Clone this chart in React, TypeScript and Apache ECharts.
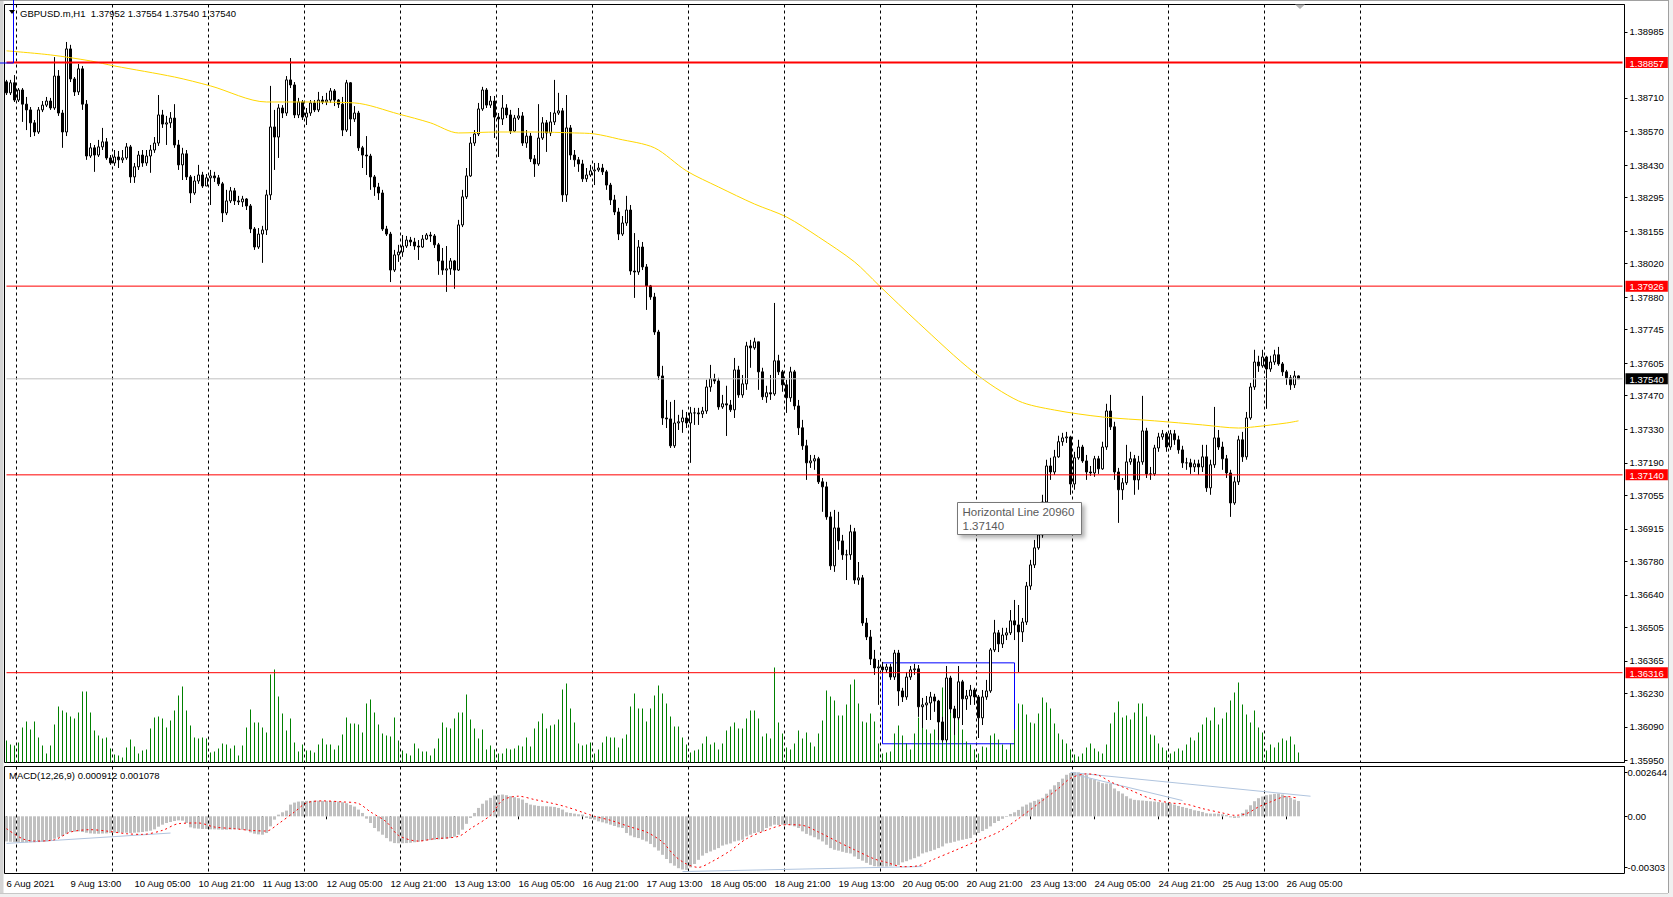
import React, { useEffect, useRef } from "react";
import * as echarts from "echarts";

const FONT = '"Liberation Sans", Arial, Helvetica, sans-serif';

// ---------- tick labels ----------
const timeTickLabels = [
  "6 Aug 2021", "9 Aug 13:00", "10 Aug 05:00", "10 Aug 21:00", "11 Aug 13:00", "12 Aug 05:00",
  "12 Aug 21:00", "13 Aug 13:00", "16 Aug 05:00", "16 Aug 21:00", "17 Aug 13:00", "18 Aug 05:00",
  "18 Aug 21:00", "19 Aug 13:00", "20 Aug 05:00", "20 Aug 21:00", "23 Aug 13:00", "24 Aug 05:00",
  "24 Aug 21:00", "25 Aug 13:00", "26 Aug 05:00",
];
const priceTicks = [
  1.38985, 1.3871, 1.3857, 1.3843, 1.38295, 1.38155, 1.3802, 1.3788, 1.37745, 1.37605, 1.3747,
  1.3733, 1.3719, 1.37055, 1.36915, 1.3678, 1.3664, 1.36505, 1.36365, 1.3623, 1.3609, 1.3595,
];
const redLevels = [1.38857, 1.37926, 1.3714, 1.36316];
const redWidths = [2, 1, 1, 1];
const bidPrice = 1.3754;
const macdTicks = [0.002644, 0, -0.00303];
const macdTickLabels = ["0.002644", "0.00", "-0.00303"];

// ---------- H1 candles (GBPUSD) ----------
const firstOpen = 1.38777;
const closes = [
  1.38731, 1.38773, 1.38701, 1.38743, 1.38684, 1.3866, 1.38606, 1.38568, 1.3866, 1.3868,
  1.38697, 1.38668, 1.38801, 1.38647, 1.38568, 1.38914, 1.38789, 1.38735, 1.38831, 1.38684,
  1.38468, 1.38502, 1.38472, 1.38506, 1.38527, 1.3846, 1.38439, 1.38464, 1.38452, 1.3846,
  1.38506, 1.38381, 1.38423, 1.38472, 1.38439, 1.38468, 1.38493, 1.38522, 1.38639, 1.38601,
  1.38606, 1.38626, 1.38514, 1.38431, 1.38477, 1.38381, 1.38314, 1.38364, 1.38389, 1.38343,
  1.38377, 1.38385, 1.38377, 1.38352, 1.38231, 1.38281, 1.38323, 1.38281, 1.38277, 1.38289,
  1.3826, 1.38164, 1.38089, 1.38143, 1.3816, 1.38306, 1.38589, 1.38547, 1.38668, 1.38647,
  1.38785, 1.38764, 1.38639, 1.38693, 1.3863, 1.38647, 1.38689, 1.3866, 1.38701, 1.38693,
  1.38701, 1.38739, 1.38701, 1.38684, 1.38576, 1.38773, 1.38622, 1.38647, 1.38502, 1.38472,
  1.38468, 1.38381, 1.38339, 1.38314, 1.38164, 1.38143, 1.37993, 1.38056, 1.38068, 1.38093,
  1.38118, 1.3811, 1.38093, 1.38089, 1.38122, 1.38139, 1.38135, 1.38098, 1.38031, 1.37993,
  1.37998, 1.38031, 1.37993, 1.38181, 1.38298, 1.38385, 1.38522, 1.3856, 1.38664, 1.38743,
  1.3868, 1.38697, 1.3863, 1.38622, 1.38668, 1.38639, 1.38572, 1.38626, 1.38635, 1.38522,
  1.38551, 1.38456, 1.38435, 1.38543, 1.38606, 1.38564, 1.3861, 1.38647, 1.38656, 1.38306,
  1.38585, 1.38472, 1.38452, 1.38435, 1.38373, 1.38389, 1.38406, 1.3841, 1.38418, 1.38402,
  1.38347, 1.38285, 1.38235, 1.38143, 1.38189, 1.38243, 1.37989, 1.37985, 1.38089, 1.38006,
  1.37927, 1.37881, 1.37735, 1.37552, 1.37377, 1.37373, 1.37261, 1.37356, 1.37361, 1.37377,
  1.37356, 1.37398, 1.37398, 1.37394, 1.37406, 1.37506, 1.3754, 1.37531, 1.37423, 1.37436,
  1.37431, 1.37411, 1.37577, 1.37473, 1.37519, 1.37677, 1.37669, 1.37694, 1.37569, 1.37465,
  1.37482, 1.37477, 1.37615, 1.37569, 1.37515, 1.37461, 1.37569, 1.37427, 1.37336, 1.37261,
  1.3719, 1.37198, 1.37207, 1.37111, 1.3709, 1.36965, 1.36761, 1.36919, 1.36865, 1.36807,
  1.36807, 1.36903, 1.36702, 1.36711, 1.36523, 1.36465, 1.36373, 1.36336, 1.3634, 1.36328,
  1.3634, 1.36298, 1.36398, 1.3624, 1.36215, 1.36298, 1.36328, 1.36332, 1.36174, 1.36182,
  1.3619, 1.36215, 1.36198, 1.36111, 1.36036, 1.36294, 1.36165, 1.36128, 1.36278, 1.36207,
  1.36219, 1.36244, 1.36215, 1.36128, 1.36215, 1.3624, 1.36411, 1.36482, 1.36436, 1.36473,
  1.36482, 1.36532, 1.36515, 1.36486, 1.36527, 1.36677, 1.36765, 1.36836, 1.3689, 1.37027,
  1.37177, 1.37152, 1.37215, 1.37278, 1.37294, 1.37298, 1.37102, 1.37211, 1.37256, 1.37198,
  1.37152, 1.37148, 1.37207, 1.37165, 1.37256, 1.37406, 1.3734, 1.37152, 1.37078, 1.37107,
  1.37194, 1.37207, 1.37119, 1.37194, 1.37323, 1.37144, 1.37144, 1.37252, 1.37298, 1.37311,
  1.37256, 1.37311, 1.37286, 1.37244, 1.3719, 1.3719, 1.37173, 1.37186, 1.37173, 1.37215,
  1.37086, 1.37182, 1.37294, 1.37256, 1.37207, 1.37148, 1.37023, 1.37111, 1.37286, 1.37215,
  1.37377, 1.37506, 1.3761, 1.37594, 1.37631, 1.37581, 1.3761, 1.3764, 1.37602, 1.37569,
  1.37544, 1.37515, 1.37552, 1.3754,
];
const highs = [
  1.38785, 1.38785, 1.38805, 1.38751, 1.38751, 1.38714, 1.38672, 1.38618, 1.38672, 1.38697,
  1.38714, 1.3871, 1.3888, 1.38826, 1.3866, 1.38943, 1.38931, 1.38797, 1.38851, 1.38843,
  1.38701, 1.38522, 1.38514, 1.38535, 1.38585, 1.38543, 1.38472, 1.38493, 1.38489, 1.38493,
  1.38522, 1.38514, 1.38439, 1.38489, 1.38493, 1.38493, 1.38514, 1.38547, 1.38722, 1.3866,
  1.38635, 1.38651, 1.38684, 1.38535, 1.38502, 1.38493, 1.38389, 1.38385, 1.38431, 1.38402,
  1.38393, 1.3841, 1.38402, 1.38389, 1.3836, 1.38327, 1.38339, 1.38335, 1.38302, 1.38302,
  1.38293, 1.38268, 1.38172, 1.38168, 1.38177, 1.38327, 1.3876, 1.3866, 1.38684, 1.3868,
  1.38801, 1.38876, 1.38776, 1.3871, 1.38701, 1.38668, 1.38701, 1.38701, 1.38735, 1.38718,
  1.38731, 1.38751, 1.38747, 1.38705, 1.38714, 1.38785, 1.38776, 1.38676, 1.38656, 1.3851,
  1.38551, 1.38477, 1.38389, 1.38356, 1.38327, 1.38177, 1.38152, 1.38077, 1.38098, 1.38139,
  1.38135, 1.38131, 1.38127, 1.38118, 1.38139, 1.38147, 1.38152, 1.38143, 1.38106, 1.38085,
  1.38093, 1.38043, 1.38035, 1.38202, 1.38327, 1.38418, 1.38547, 1.38576, 1.38689, 1.38756,
  1.38751, 1.38718, 1.38718, 1.38647, 1.38722, 1.38684, 1.3866, 1.38639, 1.38668, 1.38651,
  1.38576, 1.38564, 1.38472, 1.38684, 1.3863, 1.38618, 1.38651, 1.38785, 1.38731, 1.38668,
  1.38722, 1.38597, 1.38493, 1.38464, 1.38452, 1.38418, 1.38431, 1.38439, 1.38439, 1.38435,
  1.3841, 1.38356, 1.38306, 1.38252, 1.38218, 1.38302, 1.38264, 1.38147, 1.38118, 1.3811,
  1.38018, 1.37931, 1.37898, 1.37744, 1.37594, 1.37452, 1.37444, 1.37452, 1.3739, 1.37411,
  1.37402, 1.37423, 1.37419, 1.37419, 1.37423, 1.37536, 1.37598, 1.37561, 1.37544, 1.37473,
  1.37511, 1.37452, 1.37627, 1.37594, 1.37556, 1.37694, 1.37702, 1.37711, 1.37681, 1.37586,
  1.37511, 1.37556, 1.37856, 1.3764, 1.37577, 1.37536, 1.3759, 1.37577, 1.37452, 1.37369,
  1.37286, 1.37223, 1.37223, 1.37215, 1.37127, 1.37111, 1.36986, 1.36994, 1.36986, 1.3689,
  1.36828, 1.36932, 1.36919, 1.36777, 1.36723, 1.36544, 1.36494, 1.36411, 1.36369, 1.36361,
  1.36353, 1.36353, 1.36411, 1.36411, 1.36253, 1.36319, 1.36344, 1.36353, 1.36348, 1.36211,
  1.36219, 1.36236, 1.36228, 1.36203, 1.36132, 1.36344, 1.36303, 1.36178, 1.36344, 1.36286,
  1.36244, 1.36265, 1.36253, 1.36223, 1.36244, 1.36286, 1.36419, 1.36536, 1.36494, 1.36503,
  1.36503, 1.36577, 1.36619, 1.36598, 1.36544, 1.36694, 1.36786, 1.36869, 1.36911, 1.37057,
  1.37203, 1.37211, 1.37244, 1.37303, 1.37315, 1.37319, 1.37303, 1.37236, 1.37286, 1.37265,
  1.37223, 1.37177, 1.37219, 1.37219, 1.37278, 1.37436, 1.37473, 1.37361, 1.37169, 1.37127,
  1.37265, 1.37236, 1.37223, 1.37219, 1.37469, 1.37336, 1.37173, 1.37265, 1.37315, 1.37327,
  1.37319, 1.37327, 1.37327, 1.37303, 1.37261, 1.37211, 1.37207, 1.37203, 1.37203, 1.37265,
  1.37265, 1.37203, 1.37423, 1.37327, 1.37278, 1.37223, 1.37161, 1.37132, 1.37303, 1.37319,
  1.37402, 1.37523, 1.37661, 1.37636, 1.37661, 1.37636, 1.37636, 1.37661, 1.37673, 1.3761,
  1.37577, 1.37556, 1.37573, 1.37554,
];
const lows = [
  1.38722, 1.38722, 1.38693, 1.38693, 1.3861, 1.38576, 1.38547, 1.38551, 1.3856, 1.38651,
  1.38672, 1.3866, 1.3866, 1.38635, 1.38502, 1.38551, 1.38776, 1.38718, 1.38722, 1.3866,
  1.38452, 1.3846, 1.38402, 1.38464, 1.38493, 1.38452, 1.38431, 1.38427, 1.38418, 1.38439,
  1.38452, 1.38356, 1.38356, 1.3841, 1.38423, 1.38427, 1.38398, 1.38481, 1.3851, 1.38585,
  1.38514, 1.38585, 1.38502, 1.3841, 1.38368, 1.38368, 1.38272, 1.38306, 1.38352, 1.38335,
  1.38343, 1.38264, 1.3836, 1.38343, 1.38193, 1.38222, 1.38272, 1.38264, 1.38264, 1.38256,
  1.38243, 1.38147, 1.38077, 1.38081, 1.38023, 1.38139, 1.38285, 1.3841, 1.3846, 1.38626,
  1.38635, 1.38751, 1.38626, 1.38626, 1.38618, 1.38597, 1.38635, 1.38651, 1.38651, 1.38684,
  1.3868, 1.38689, 1.38676, 1.38668, 1.38551, 1.38568, 1.38551, 1.3861, 1.38489, 1.38418,
  1.38389, 1.38327, 1.38302, 1.38285, 1.38156, 1.38135, 1.37943, 1.37985, 1.38027, 1.38048,
  1.38085, 1.38093, 1.38077, 1.38035, 1.38085, 1.38118, 1.3811, 1.38085, 1.37973, 1.37973,
  1.37902, 1.37973, 1.37915, 1.37989, 1.38172, 1.38289, 1.38381, 1.3851, 1.38551, 1.38656,
  1.38668, 1.38668, 1.38543, 1.38464, 1.38597, 1.38626, 1.3856, 1.38568, 1.38618, 1.3851,
  1.38502, 1.38443, 1.38381, 1.38427, 1.38535, 1.38485, 1.38551, 1.38597, 1.38639, 1.38277,
  1.38277, 1.38452, 1.38423, 1.38402, 1.3836, 1.3836, 1.38381, 1.38347, 1.38402, 1.38389,
  1.38327, 1.38264, 1.38222, 1.38118, 1.38135, 1.38177, 1.37973, 1.37877, 1.37973, 1.37993,
  1.37827, 1.37869, 1.37723, 1.37536, 1.37348, 1.37335, 1.37252, 1.37252, 1.37327, 1.37315,
  1.37335, 1.3719, 1.37348, 1.37348, 1.37377, 1.37394, 1.37486, 1.37519, 1.37411, 1.37415,
  1.37302, 1.37402, 1.37377, 1.37461, 1.37461, 1.37494, 1.37586, 1.37661, 1.37494, 1.37452,
  1.3744, 1.37452, 1.37469, 1.37556, 1.37486, 1.37398, 1.37444, 1.37411, 1.37306, 1.37244,
  1.37119, 1.37169, 1.37161, 1.37102, 1.36986, 1.36953, 1.36744, 1.36736, 1.36828, 1.36786,
  1.36702, 1.36786, 1.36686, 1.36682, 1.36511, 1.36452, 1.36348, 1.36307, 1.36182, 1.36315,
  1.36315, 1.36286, 1.36286, 1.36178, 1.36194, 1.36203, 1.36286, 1.36307, 1.36132, 1.36086,
  1.36119, 1.36119, 1.36153, 1.36036, 1.36028, 1.36028, 1.36148, 1.36057, 1.36119, 1.36098,
  1.36161, 1.36182, 1.36182, 1.36044, 1.36098, 1.36203, 1.36232, 1.36402, 1.36402, 1.36419,
  1.36452, 1.36473, 1.36452, 1.36319, 1.36444, 1.36515, 1.36661, 1.36752, 1.36828, 1.36878,
  1.37015, 1.37119, 1.3714, 1.37211, 1.37261, 1.37273, 1.37057, 1.37078, 1.37203, 1.3719,
  1.37119, 1.37136, 1.37132, 1.37144, 1.37161, 1.37244, 1.37327, 1.37119, 1.3694, 1.37036,
  1.37098, 1.37182, 1.37057, 1.37078, 1.37182, 1.37127, 1.37119, 1.37136, 1.37236, 1.37286,
  1.37236, 1.37244, 1.37265, 1.37228, 1.37169, 1.37161, 1.37144, 1.37152, 1.3714, 1.37152,
  1.37069, 1.37057, 1.37169, 1.37244, 1.37161, 1.37127, 1.36965, 1.37015, 1.37098, 1.37194,
  1.37203, 1.37369, 1.37494, 1.37569, 1.37586, 1.37415, 1.37569, 1.37598, 1.37594, 1.37552,
  1.37515, 1.37494, 1.37502, 1.3754,
];
// tick volume (hundreds)
const volumes = [
  22, 18, 17, 20, 35, 41, 33, 41, 25, 17, 9, 17, 38, 56, 52, 50, 46, 44, 50, 71,
  71, 50, 32, 27, 24, 25, 14, 8, 7, 5, 15, 23, 16, 9, 12, 13, 34, 45, 46, 44,
  35, 42, 52, 67, 76, 52, 37, 25, 24, 25, 24, 10, 11, 14, 19, 18, 14, 17, 7, 17,
  35, 53, 40, 40, 35, 30, 88, 93, 66, 49, 32, 44, 20, 11, 18, 12, 12, 10, 18, 24,
  18, 18, 13, 17, 28, 45, 39, 39, 38, 30, 59, 63, 50, 38, 29, 27, 26, 45, 22, 12,
  9, 7, 19, 14, 11, 11, 7, 14, 24, 40, 35, 34, 44, 50, 50, 68, 43, 34, 24, 33,
  13, 17, 13, 9, 9, 14, 13, 14, 17, 16, 25, 16, 34, 41, 49, 34, 37, 38, 43, 73,
  79, 54, 40, 19, 17, 18, 20, 9, 13, 20, 26, 25, 25, 15, 24, 28, 56, 69, 54, 54,
  41, 54, 67, 77, 69, 59, 46, 36, 36, 25, 18, 10, 12, 13, 19, 26, 18, 20, 13, 19,
  32, 36, 40, 34, 34, 44, 52, 52, 44, 26, 29, 24, 95, 40, 29, 15, 13, 19, 32, 24,
  30, 20, 16, 29, 42, 72, 66, 62, 47, 47, 58, 78, 83, 59, 41, 40, 49, 41, 19, 9,
  10, 11, 29, 37, 27, 19, 13, 29, 45, 58, 33, 29, 33, 41, 75, 84, 59, 46, 59, 33,
  21, 18, 13, 9, 16, 15, 27, 29, 23, 18, 13, 19, 33, 59, 58, 48, 40, 39, 49, 65,
  60, 54, 39, 29, 23, 19, 13, 8, 6, 9, 15, 19, 14, 11, 9, 18, 39, 50, 61, 45,
  47, 43, 50, 59, 59, 46, 28, 27, 19, 15, 12, 9, 11, 14, 12, 18, 25, 22, 30, 38,
  45, 42, 55, 38, 44, 50, 62, 70, 80, 58, 48, 40, 52, 35, 30, 12, 18, 15, 20, 24,
  22, 26, 18, 10,
];
// moving average read at bar indices [bar, price]
const maPoints = [
  [0, 1.38906], [11, 1.38889], [21, 1.38864], [27, 1.38843], [42, 1.38797], [51, 1.3876],
  [65, 1.38693], [73, 1.38693], [87, 1.38689], [98, 1.38643], [106, 1.38606], [113, 1.38564],
  [123, 1.38568], [132, 1.38568], [142, 1.38564], [147, 1.3856], [153, 1.38539], [162, 1.38502],
  [170, 1.38406], [178, 1.38339], [187, 1.38268], [195, 1.38214], [203, 1.38131], [212, 1.38027],
  [218, 1.37931], [228, 1.37773], [242, 1.37565], [253, 1.37448], [262, 1.3741], [274, 1.37381],
  [287, 1.37365], [299, 1.37348], [308, 1.37335], [312, 1.3734], [320, 1.37356], [323, 1.37365],
];
// MACD(12,26,9)
const macdMain = [
  -0.0015, -0.00152, -0.00154, -0.00155, -0.00156, -0.00156, -0.00155, -0.00155, -0.00154, -0.00153,
  -0.0015, -0.00142, -0.00134, -0.00126, -0.00118, -0.00104, -0.00094, -0.00092, -0.0009, -0.00094,
  -0.00098, -0.00102, -0.00104, -0.00104, -0.00103, -0.00102, -0.001, -0.00098, -0.00097, -0.00098,
  -0.00098, -0.001, -0.00098, -0.00096, -0.00094, -0.0009, -0.00086, -0.00078, -0.00062, -0.0005,
  -0.0004, -0.00034, -0.00028, -0.00024, -0.00026, -0.0004, -0.00066, -0.00072, -0.00074, -0.00076,
  -0.00076, -0.00078, -0.00078, -0.00079, -0.0008, -0.0008, -0.00079, -0.00078, -0.00078, -0.0008,
  -0.00084, -0.00096, -0.00104, -0.00108, -0.0011, -0.001, -0.0006, -0.0002, 0.0001, 0.00024,
  0.00034, 0.0007, 0.00082, 0.00088, 0.0009, 0.00092, 0.00092, 0.00093, 0.00093, 0.00092,
  0.00092, 0.00091, 0.0009, 0.00088, 0.00084, 0.00078, 0.00068, 0.00058, 0.0004, 0.0002,
  -0.00014, -0.0004, -0.0007, -0.0009, -0.0011, -0.0013, -0.0015, -0.0016, -0.00161, -0.00161,
  -0.0016, -0.00158, -0.00155, -0.00152, -0.00148, -0.00145, -0.00142, -0.0014, -0.00138, -0.00136,
  -0.00134, -0.0013, -0.00122, -0.0011, -0.0008, -0.00045, -0.0001, 0.0002, 0.0005, 0.00075,
  0.00095, 0.0011, 0.00124, 0.00128, 0.0013, 0.00126, 0.0012, 0.00114, 0.00108, 0.001,
  0.0008, 0.0007, 0.00066, 0.00062, 0.0006, 0.0006, 0.00058, 0.00056, 0.0005, 0.0004,
  0.00024, 0.0002, 0.00016, 0.00012, 0.0001, -0.0001, -0.00016, -0.0002, -0.0003, -0.00036,
  -0.00042, -0.0005, -0.00058, -0.00066, -0.0007, -0.001, -0.00115, -0.00125, -0.0013, -0.0014,
  -0.0015, -0.00165, -0.00185, -0.00205, -0.0023, -0.00255, -0.0028, -0.00295, -0.0031, -0.00318,
  -0.0032, -0.00305, -0.00285, -0.0026, -0.00235, -0.0022, -0.0021, -0.002, -0.0019, -0.00175,
  -0.00168, -0.00162, -0.0015, -0.00145, -0.0014, -0.0012, -0.0011, -0.001, -0.00095, -0.0009,
  -0.0007, -0.0006, -0.0005, -0.00052, -0.0005, -0.0005, -0.00054, -0.0006, -0.0007, -0.0009,
  -0.00105, -0.00115, -0.00125, -0.00138, -0.0015, -0.0017, -0.0019, -0.002, -0.00205, -0.00212,
  -0.00218, -0.00222, -0.0024, -0.00255, -0.00265, -0.00278, -0.0029, -0.00298, -0.003, -0.003,
  -0.003, -0.00298, -0.00295, -0.00292, -0.00275, -0.00268, -0.00258, -0.0025, -0.0024, -0.00222,
  -0.00215, -0.00208, -0.002, -0.0019, -0.0018, -0.00162, -0.00158, -0.00152, -0.00145, -0.0014,
  -0.00135, -0.0013, -0.0011, -0.001, -0.00088, -0.00075, -0.0006, -0.0004, -0.00028, -0.00015,
  -0.00004, 0.00014, 0.00024, 0.00038, 0.00058, 0.0007, 0.00082, 0.00092, 0.001, 0.0011,
  0.00135, 0.0016, 0.00185, 0.00205, 0.00225, 0.00248, 0.00258, 0.00264, 0.00262, 0.0025,
  0.00246, 0.00226, 0.0022, 0.00208, 0.00198, 0.00196, 0.00196, 0.00166, 0.0015, 0.00136,
  0.0012, 0.00106, 0.00098, 0.00096, 0.00094, 0.00092, 0.0009, 0.00088, 0.00085, 0.00082,
  0.0008, 0.00077, 0.0007, 0.00062, 0.00056, 0.0005, 0.00044, 0.00036, 0.00032, 0.00026,
  0.00018, 0.00016, 0.00016, 0.00016, 0.00012, 0.00008, -0.00006, -0.0001, -0.00008, 0.0002,
  0.0004, 0.00066, 0.0009, 0.00108, 0.00118, 0.00126, 0.0013, 0.00134, 0.00136, 0.0013,
  0.0012, 0.0011, 0.001, 0.000912,
];
const macdSignal = [
  [0, -0.00074], [4, -0.00134], [7, -0.00148], [12, -0.0014], [16, -0.00094], [21, -0.0008],
  [25, -0.00088], [30, -0.00104], [34, -0.00108], [39, -0.00084], [43, -0.00044], [48, -0.0004],
  [52, -0.00064], [57, -0.00074], [61, -0.00084], [65, -0.00088], [68, -0.00044], [72, 0.00026],
  [75, 0.0008], [79, 0.00092], [84, 0.00086], [88, 0.00076], [91, 0.00026], [95, -0.00034],
  [98, -0.00114], [103, -0.00148], [107, -0.00134], [113, -0.0012], [116, -0.00074], [121, 0.00006],
  [124, 0.00096], [128, 0.0012], [132, 0.001], [136, 0.0008], [140, 0.00056], [144, 0.00024],
  [147, 0], [151, -0.00024], [156, -0.00064], [160, -0.00094], [164, -0.00154], [167, -0.00235],
  [170, -0.00285], [173, -0.00305], [176, -0.00275], [181, -0.00205], [185, -0.00134], [191, -0.00074],
  [195, -0.0005], [199, -0.00054], [203, -0.00094], [208, -0.00154], [212, -0.002], [217, -0.00255],
  [220, -0.00275], [224, -0.00301], [228, -0.00295], [232, -0.00255], [237, -0.00205], [242, -0.00154],
  [248, -0.00094], [253, -0.00014], [258, 0.00076], [263, 0.00166], [266, 0.00227], [270, 0.00253],
  [273, 0.00245], [276, 0.00206], [281, 0.00156], [286, 0.00106], [291, 0.0008], [295, 0.00072],
  [299, 0.00046], [304, 0.0002], [307, 0.00006], [310, 0.00016], [313, 0.00056], [316, 0.00086],
  [320, 0.00118], [323, 0.001078],
];
// user-drawn trend lines in the MACD window
const macdTrendLines = [
  [[0, -0.00162], [41, -0.001]],
  [[169, -0.0033], [229, -0.003]],
  [[266, 0.00262], [326, 0.0012]],
  [[267, 0.0025], [294, 0.00094]],
];
// user-drawn rectangle [bar, price]
const boxCorners = [[219, 1.36357], [252, 1.3602]];

const SLOTS = 405;

export default function App() {
  const ref = useRef<HTMLDivElement>(null);

  useEffect(() => {
    if (!ref.current) return;
    const chart = echarts.init(ref.current, undefined, { renderer: "svg" });

    const slots = Array.from({ length: SLOTS }, (_, i) => String(i));
    const candleData = closes.map((c, i) => {
      const o = i === 0 ? firstOpen : closes[i - 1];
      return [o, c, Math.min(lows[i], o, c), Math.max(highs[i], o, c)];
    });
    const near = (a: number, b: number) => Math.abs(a - b) < 1e-7;
    const dayGrid = (idx: number) => idx % 24 === 3 && idx <= 339;
    const labelAt = (idx: number) => idx % 16 === 0 && idx / 16 < timeTickLabels.length;
    const splitLine = { show: true, interval: dayGrid, lineStyle: { color: "#000", width: 1, type: [3, 3] } };

    const hLine = (v: number, color: string, width: number) => ({
      type: "line", xAxisIndex: 0, yAxisIndex: 0, data: [[0, v], [SLOTS - 1, v]], showSymbol: false,
      lineStyle: { color, width, type: "solid" }, silent: true, z: 5,
    });

    const txt = (text: string, x: number, y: number, size: number, color = "#000") => ({
      type: "text", z: 120, silent: true,
      style: { text, x, y, fill: color, font: `${size}px ${FONT}`, textAlign: "left", textVerticalAlign: "middle", verticalAlign: "middle" },
    });

    const option: any = {
      animation: false,
      backgroundColor: "#ffffff",
      grid: [
        { left: 4.5, top: 4.5, width: 1620, height: 758, show: true, borderColor: "#000", borderWidth: 1, backgroundColor: "#fff", containLabel: false, outerBoundsMode: "none" },
        { left: 4.5, top: 766.5, width: 1620, height: 107, show: true, borderColor: "#000", borderWidth: 1, backgroundColor: "#fff", containLabel: false, outerBoundsMode: "none" },
      ],
      xAxis: [
        {
          type: "category", gridIndex: 0, data: slots, boundaryGap: true,
          axisLine: { show: false }, axisTick: { show: false }, axisLabel: { show: false }, splitLine,
        },
        {
          type: "category", gridIndex: 1, data: slots, boundaryGap: true, position: "bottom",
          axisLine: { show: false },
          axisTick: { show: true, interval: labelAt, alignWithLabel: true, length: 3, lineStyle: { color: "#000" } },
          axisLabel: {
            show: true, interval: labelAt, align: "left", margin: 5, color: "#000", fontSize: 9.5, fontFamily: FONT,
            formatter: (v: string) => timeTickLabels[Math.round(Number(v) / 16)] ?? "",
          },
          splitLine,
        },
      ],
      yAxis: [
        {
          type: "value", gridIndex: 0, position: "right", min: 1.35942, max: 1.39099,
          axisLine: { show: false }, splitLine: { show: false },
          axisTick: { show: true, customValues: priceTicks, length: 3, lineStyle: { color: "#000" } },
          axisLabel: {
            show: true, customValues: [...priceTicks, ...redLevels, bidPrice], margin: 1,
            formatter: (v: number) => {
              const s = v.toFixed(5);
              if (redLevels.some((r) => near(r, v))) return `{r|${s}}`;
              if (near(v, bidPrice)) return `{b|${s}}`;
              return `{n|${s}}`;
            },
            rich: {
              n: { fontSize: 9.5, fontFamily: FONT, color: "#000", padding: [0, 0, 0, 4] },
              r: { fontSize: 9.5, fontFamily: FONT, color: "#fff", backgroundColor: "#FF0000", padding: [1, 4, 0, 4], lineHeight: 10 },
              b: { fontSize: 9.5, fontFamily: FONT, color: "#fff", backgroundColor: "#000000", padding: [1, 4, 0, 4], lineHeight: 10 },
            },
          },
        },
        { type: "value", gridIndex: 0, min: 0, max: 758, show: false },
        {
          type: "value", gridIndex: 1, position: "right", min: -0.003416, max: 0.002974,
          axisLine: { show: false }, splitLine: { show: false },
          axisTick: { show: true, customValues: macdTicks, length: 3, lineStyle: { color: "#000" } },
          axisLabel: {
            show: true, customValues: macdTicks, margin: 3, color: "#000", fontSize: 9.5, fontFamily: FONT,
            formatter: (v: number) => {
              const k = macdTicks.findIndex((t) => Math.abs(t - v) < 1e-9);
              return k >= 0 ? macdTickLabels[k] : "";
            },
          },
        },
      ],
      series: [
        {
          name: "Volumes", type: "bar", xAxisIndex: 0, yAxisIndex: 1, data: volumes, barWidth: 1,
          itemStyle: { color: "#008000" }, silent: true, z: 1,
        },
        {
          name: "GBPUSD", type: "candlestick", xAxisIndex: 0, yAxisIndex: 0, data: candleData, barWidth: 2,
          itemStyle: { color: "#FFFFFF", color0: "#000000", borderColor: "#000000", borderColor0: "#000000", borderWidth: 1 },
          silent: true, z: 3,
          markArea: {
            silent: true, label: { show: false },
            itemStyle: { color: "rgba(0,0,0,0)", borderColor: "#0000FF", borderWidth: 1 },
            data: [[{ xAxis: boxCorners[0][0], yAxis: boxCorners[0][1] }, { xAxis: boxCorners[1][0], yAxis: boxCorners[1][1] }]],
          },
        },
        {
          name: "MA", type: "line", xAxisIndex: 0, yAxisIndex: 0, data: maPoints, showSymbol: false, smooth: 0.3,
          lineStyle: { color: "#FFD700", width: 1 }, silent: true, z: 4,
        },
        hLine(bidPrice, "#C0C0C0", 1),
        ...redLevels.map((v, k) => hLine(v, "#FF0000", redWidths[k])),
        {
          name: "MACD", type: "bar", xAxisIndex: 1, yAxisIndex: 2, data: macdMain, barWidth: 3,
          itemStyle: { color: "#C0C0C0" }, silent: true, z: 2,
        },
        {
          name: "Signal", type: "line", xAxisIndex: 1, yAxisIndex: 2, data: macdSignal, showSymbol: false, smooth: 0.3,
          lineStyle: { color: "#FF0000", width: 1, type: [2, 3] }, silent: true, z: 4,
        },
        ...macdTrendLines.map((pts) => ({
          type: "line", xAxisIndex: 1, yAxisIndex: 2, data: pts, showSymbol: false,
          lineStyle: { color: "#B0C4DE", width: 1 }, silent: true, z: 3,
        })),
      ],
      graphic: [
        { type: "rect", z: 100, silent: true, shape: { x: 0, y: 0, width: 3.5, height: 897 }, style: { fill: "#D4D4D4" } },
        { type: "line", z: 100, silent: true, shape: { x1: 0, y1: 0.5, x2: 1668, y2: 0.5 }, style: { stroke: "#A0A0A0", lineWidth: 1 } },
        { type: "rect", z: 100, silent: true, shape: { x: 1668, y: 0, width: 5, height: 897 }, style: { fill: "#F0F0F0" } },
        { type: "line", z: 101, silent: true, shape: { x1: 1668.5, y1: 0, x2: 1668.5, y2: 893 }, style: { stroke: "#A0A0A0", lineWidth: 1 } },
        { type: "rect", z: 100, silent: true, shape: { x: 0, y: 893, width: 1673, height: 4 }, style: { fill: "#F0F0F0" } },
        { type: "line", z: 101, silent: true, shape: { x1: 0, y1: 893.5, x2: 1668, y2: 893.5 }, style: { stroke: "#C8C8C8", lineWidth: 1 } },
        // partially visible rectangle object at top-left
        { type: "rect", z: 110, silent: true, shape: { x: -5, y: -5, width: 18.5, height: 68 }, style: { fill: "none", stroke: "#0000FF", lineWidth: 1 } },
        // one-click trading arrow + header
        { type: "polygon", z: 120, silent: true, shape: { points: [[9, 10], [15, 10], [12, 14]] }, style: { fill: "#000" } },
        txt("GBPUSD.m,H1  1.37952 1.37554 1.37540 1.37540", 20, 13, 9.5),
        txt("MACD(12,26,9) 0.000912 0.001078", 9, 775.5, 9.5),
        // chart shift marker
        { type: "polygon", z: 120, silent: true, shape: { points: [[1295, 4.5], [1305, 4.5], [1300, 9]] }, style: { fill: "#B4B4B4" } },
        // object tooltip
        {
          type: "rect", z: 118, silent: true, shape: { x: 957.5, y: 502.5, width: 124, height: 32 },
          style: { fill: "#FFFFFF", stroke: "#787878", lineWidth: 1, shadowBlur: 4, shadowOffsetX: 3, shadowOffsetY: 3, shadowColor: "rgba(0,0,0,0.3)" },
        },
        txt("Horizontal Line 20960", 962.5, 511.5, 11.5, "#5A5A5A"),
        txt("1.37140", 962.5, 526, 11.5, "#5A5A5A"),
      ],
    };

    chart.setOption(option);
    return () => chart.dispose();
  }, []);

  return (
    <div
      ref={ref}
      style={{ position: "fixed", left: 0, top: 0, width: 1673, height: 897, background: "#ffffff" }}
    />
  );
}
